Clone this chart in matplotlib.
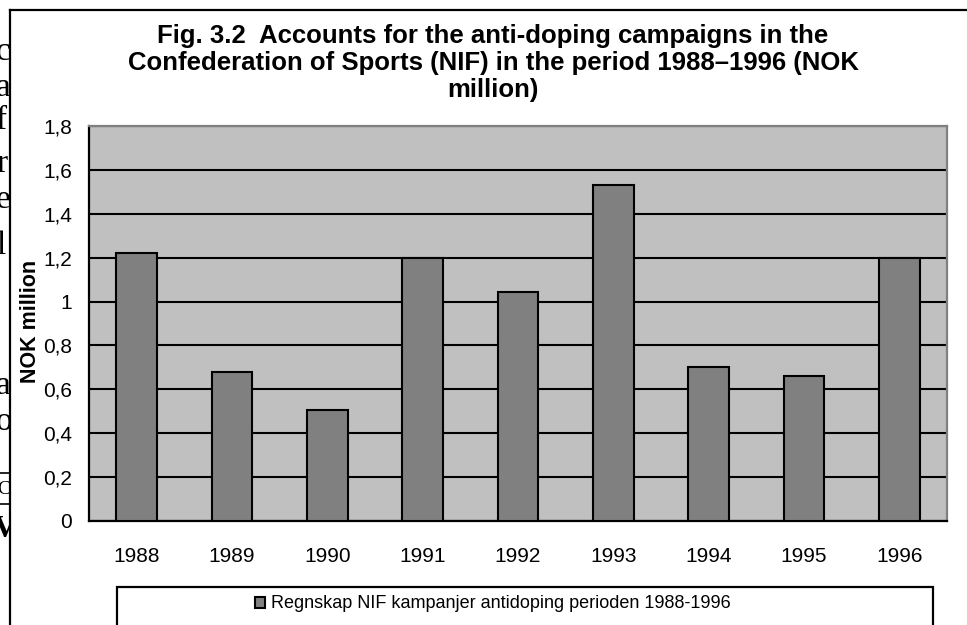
import matplotlib
matplotlib.use("Agg")
import matplotlib.pyplot as plt
import numpy as np
from matplotlib.patches import Rectangle
from matplotlib.lines import Line2D
from matplotlib.transforms import Bbox, TransformedBbox

years = ["1988", "1989", "1990", "1991", "1992", "1993", "1994", "1995", "1996"]
accounts = [1.22, 0.68, 0.505, 1.20, 1.045, 1.53, 0.70, 0.66, 1.20]
yticks = [0, 0.2, 0.4, 0.6, 0.8, 1.0, 1.2, 1.4, 1.6, 1.8]
ytick_labels = ["0", "0,2", "0,4", "0,6", "0,8", "1", "1,2", "1,4", "1,6", "1,8"]
title = ("Fig. 3.2  Accounts for the anti-doping campaigns in the\n"
         "Confederation of Sports (NIF) in the period 1988\u20131996 (NOK\n"
         "million)")
series_name = "Regnskap NIF kampanjer antidoping perioden 1988-1996"

W, H = 967, 625
plt.rcParams['font.family'] = ['Liberation Sans', 'DejaVu Sans']
fig = plt.figure(figsize=(W / 100, H / 100), dpi=100)

# stray bits of the page behind the chart, cut off at the chart frame
clip = TransformedBbox(Bbox.from_extents(0, 0, 10 / W, 1), fig.transFigure)
stray = [("c", 60), ("a", 96), ("f", 129), ("r", 172), ("e", 208), ("l", 254),
         ("a", 394), ("o", 430)]
for ch, yb in stray:
    t = fig.text(-4 / W, 1 - yb / H, ch, fontsize=24, family="Liberation Serif",
                 va="baseline", ha="left")
    t.set_clip_on(True)
    t.set_clip_box(clip)
t = fig.text(-6 / W, 1 - 537 / H, "V", fontsize=22, family="Liberation Serif",
             weight="bold", va="baseline", ha="left")
t.set_clip_on(True)
t.set_clip_box(clip)
t = fig.text(-3 / W, 1 - 494 / H, "C", fontsize=14, family="Liberation Serif",
             va="baseline", ha="left")
t.set_clip_on(True)
t.set_clip_box(clip)
for yl in (473, 504):
    fig.add_artist(Line2D([0, 10 / W], [1 - yl / H, 1 - yl / H],
                          transform=fig.transFigure, color="black", lw=1.2))

# chart frame (extends past right and bottom)
fig.add_artist(Line2D([10 / W, 1.0], [1 - 10 / H, 1 - 10 / H],
                      transform=fig.transFigure, color="black", lw=1.6))
fig.add_artist(Line2D([10 / W, 10 / W], [0, 1 - 10 / H],
                      transform=fig.transFigure, color="black", lw=1.6))

ax = fig.add_axes([89 / W, 1 - 521 / H, (947 - 89) / W, (521 - 126) / H])
ax.set_facecolor("#C0C0C0")
x = np.arange(len(years))
ax.set_axisbelow(True)
ax.yaxis.grid(True, color="black", lw=1.5)
ax.bar(x, accounts, width=0.43, color="#808080", edgecolor="black", lw=1.5,
       label=series_name, zorder=3)
ax.set_xlim(-0.5, len(years) - 0.5)
ax.set_ylim(0, 1.8)
ax.set_yticks(yticks)
ax.set_yticklabels(ytick_labels)
ax.set_xticks(x)
ax.set_xticklabels(years)
ax.tick_params(axis="both", length=0, labelsize=15, colors="black")
ax.tick_params(axis="x", pad=19)
ax.tick_params(axis="y", pad=12)
for s in ("left", "bottom"):
    ax.spines[s].set_color("black")
    ax.spines[s].set_linewidth(1.6)
for s in ("top", "right"):
    ax.spines[s].set_color("#808080")
    ax.spines[s].set_linewidth(1.6)

fig.text(493 / W, 1 - 63 / H, title, ha="center", va="center",
         multialignment="center", fontsize=18.5, weight="bold", linespacing=1.15)
fig.text(30 / W, 1 - 321 / H, "NOK million", rotation=90, ha="center",
         va="center", fontsize=15.5, weight="bold")

# legend box, cut off at the bottom edge
fig.add_artist(Rectangle((117 / W, -0.05), (933 - 117) / W, (625 - 587) / H + 0.05,
                         transform=fig.transFigure, fill=False, ec="black", lw=1.6))
leg = ax.legend(loc="center", bbox_to_anchor=(493 / W, 1 - 604 / H),
                bbox_transform=fig.transFigure, frameon=False, fontsize=13,
                handlelength=0.55, handleheight=0.55, handletextpad=0.35)

fig.savefig("out.png", dpi=100)
